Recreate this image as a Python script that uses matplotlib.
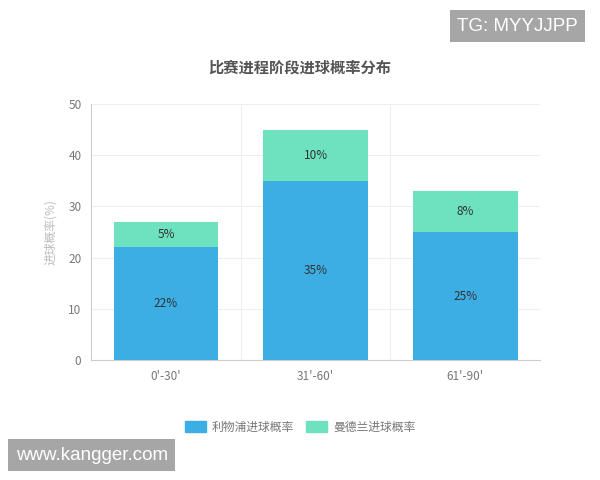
import matplotlib

matplotlib.use("Agg")

import matplotlib.pyplot as plt
from matplotlib.patches import Patch

plt.rcParams["font.family"] = ["Noto Sans CJK SC", "DejaVu Sans"]

# data
periods = ["0'-30'", "31'-60'", "61'-90'"]
liverpool = [22, 35, 25]
other_team = [5, 10, 8]
series_names = ["利物浦进球概率", "曼德兰进球概率"]
yticks = [0, 10, 20, 30, 40, 50]

blue = "#3daee3"
green = "#6ee2bf"
grey_text = "#777777"

fig = plt.figure(figsize=(6, 4.8), dpi=100)
ax = fig.add_axes([0.152, 0.25, 0.748, 0.533])

x = list(range(len(periods)))
ax.bar(x, liverpool, width=0.7, color=blue, zorder=3)
ax.bar(x, other_team, width=0.7, bottom=liverpool, color=green, zorder=3)

for i in x:
    ax.text(i, liverpool[i] / 2, f"{liverpool[i]}%", ha="center", va="center",
            fontsize=8.5, color="#333333", zorder=4)
    ax.text(i, liverpool[i] + other_team[i] / 2, f"{other_team[i]}%", ha="center",
            va="center", fontsize=8.5, color="#333333", zorder=4)

ax.set_xlim(-0.5, len(periods) - 0.5)
ax.set_ylim(0, 50)
ax.set_yticks(yticks)
ax.set_xticks(x)
ax.set_xticklabels(periods)
ax.tick_params(axis="both", length=0, labelsize=8.5, labelcolor=grey_text, pad=7)

# horizontal grid + category separators
ax.grid(axis="y", color="#eeeeee", linewidth=0.8, zorder=0)
for b in [0.5, 1.5, 2.5]:
    ax.axvline(b, color="#eeeeee", linewidth=0.8, zorder=0)

for side in ["top", "right"]:
    ax.spines[side].set_visible(False)
ax.spines["left"].set_color("#cccccc")
ax.spines["bottom"].set_color("#cccccc")

ax.set_ylabel("进球概率(%)", fontsize=8.5, color="#bbbbbb", labelpad=8)

fig.text(0.5, 0.86, "比赛进程阶段进球概率分布", ha="center", va="center",
         fontsize=11, fontweight="bold", color="#555555")

handles = [Patch(facecolor=blue, edgecolor=blue), Patch(facecolor=green, edgecolor=green)]
fig.legend(handles, series_names, loc="center", bbox_to_anchor=(0.5, 0.11), ncol=2,
           frameon=False, fontsize=8.5, labelcolor=grey_text, handlelength=1.8,
           handleheight=1.1, columnspacing=1.0, handletextpad=0.5)

# watermarks
fig.text(0.762, 0.945, "TG: MYYJJPP", ha="left", va="center", fontsize=13.5,
         color="white", family="Liberation Sans",
         bbox=dict(boxstyle="square,pad=0.4", facecolor="#a6a6a6", edgecolor="none"))
fig.text(0.026, 0.052, "www.kangger.com", ha="left", va="center", fontsize=13.5,
         color="white", family="Liberation Sans",
         bbox=dict(boxstyle="square,pad=0.4", facecolor="#a6a6a6", edgecolor="none"))

plt.savefig("out.png")
